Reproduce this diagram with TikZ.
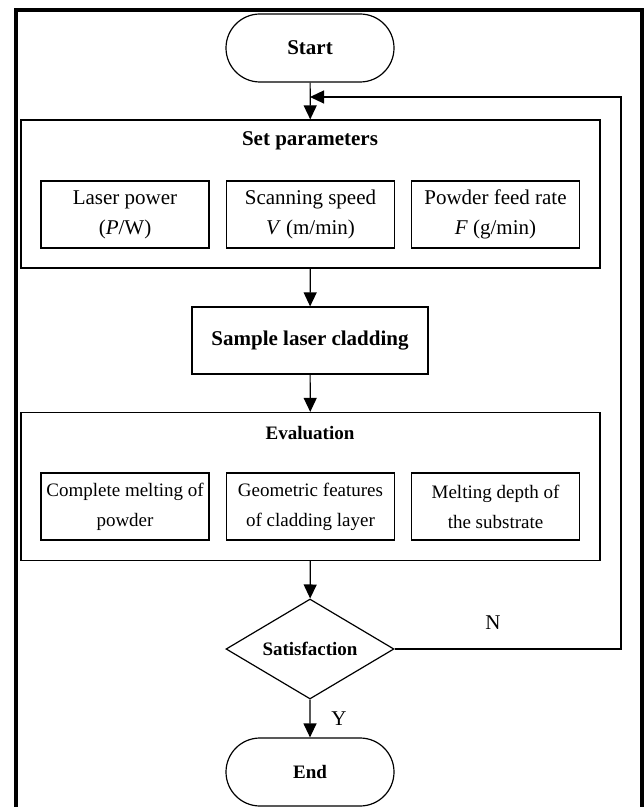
\documentclass[tikz,border=0pt]{standalone}
\usepackage{fontspec}
\setmainfont{Liberation Serif}
\usetikzlibrary{arrows.meta,shapes.misc,shapes.geometric}

\begin{document}
\begin{tikzpicture}[x=0.5pt, y=-0.5pt,
    txt/.style={font=\fontsize{10.5}{15}\selectfont},
    txtb/.style={font=\fontsize{10.5}{15}\selectfont\bfseries},
    txts/.style={font=\fontsize{9.5}{15}\selectfont},
    txtsb/.style={font=\fontsize{9.5}{15}\selectfont\bfseries},
    term/.style={rounded rectangle, draw, line width=0.6pt, minimum width=84pt, minimum height=34pt, inner sep=0pt},
    grp/.style={rectangle, draw, line width=0.6pt, minimum width=289.5pt, minimum height=74pt, inner sep=0pt},
    item/.style={rectangle, draw, line width=0.6pt, minimum width=84pt, minimum height=33.5pt, inner sep=0pt, align=center},
    proc/.style={rectangle, draw, line width=0.6pt, minimum width=118pt, minimum height=33.5pt, inner sep=0pt},
    decision/.style={diamond, draw, line width=0.6pt, aspect=1.68, minimum width=84pt, minimum height=50pt, inner sep=0pt},
    arr/.style={line width=0.6pt, -{Triangle[length=7pt, width=6.5pt]}}]
    \useasboundingbox (0,0) rectangle (643,807);

    % 外枠
    \draw[line width=2pt, line join=miter] (16,807) -- (16,10) -- (642,10) -- (642,807);

    % ノード
    \node[term, txtb] (start) at (310,48) {Start};

    \node[grp] (setp) at (310.5,194) {};
    \node[txtb] (setpT) at (310,141) {Set parameters};
    \node[item, txt] (power) at (125,214.5) {Laser power\\(\textit{P}/W)};
    \node[item, txt] (speed) at (310.5,214.5) {Scanning speed\\\textit{V} (m/min)};
    \node[item, txt] (feed) at (495.5,214.5) {Powder feed rate\\\textit{F} (g/min)};

    \node[proc, txtb] (sample) at (310,340.5) {Sample laser cladding};

    \node[grp] (eval) at (310.5,486.5) {};
    \node[txtsb] (evalT) at (310,433) {Evaluation};
    \node[item, txts] (melt) at (125,506.5) {Complete melting of\\powder};
    \node[item, txts] (geom) at (310.5,506.5) {Geometric features\\of cladding layer};
    \node[item, txts] (depth) at (495.5,506.5) {Melting depth of\\the substrate};

    \node[decision, txtsb] (sat) at (310,649) {Satisfaction};
    \node[term, txtsb] (end) at (310,772) {End};

    \node[txt] (nlab) at (493,623) {N};
    \coordinate (loopR) at (621,97);
    \coordinate (join) at (310,97);

    % エッジ
    \draw[arr] (start) -- (setp);
    \draw[arr] (setp) -- (sample);
    \draw[arr] (sample) -- (eval);
    \draw[arr] (eval) -- (sat);
    \draw[arr] (sat) -- node[txt, right, xshift=7pt] {Y} (end);
    \draw[arr] (sat.east) -| (loopR) -- (join);
\end{tikzpicture}
\end{document}
